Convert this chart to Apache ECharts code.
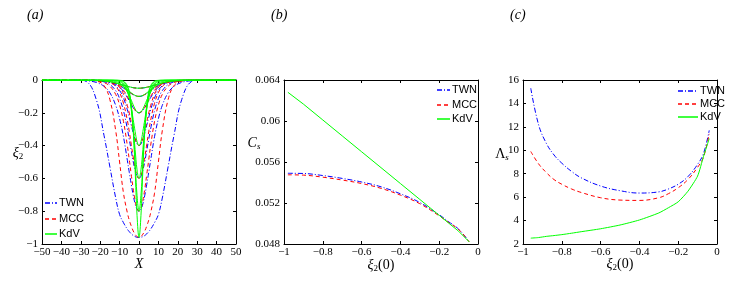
<!DOCTYPE html>
<html><head><meta charset="utf-8">
<script src="https://cdn.jsdelivr.net/npm/echarts@6.0.0/dist/echarts.min.js"></script>
<style>html,body{margin:0;padding:0;background:#fff}#c{width:733px;height:291px}</style>
</head><body><div id="c"></div>
<script>
// ---------- Panel (a): half profiles xi2(X) read at X >= 0 (curves are symmetric) ----------
const xHalf = [0, 1, 2, 3, 4, 5, 6, 8, 10, 12, 15, 18, 22, 27, 32, 50];
// TWN
const twn005 = [-0.05,-0.0496,-0.0486,-0.0468,-0.0446,-0.0419,-0.0388,-0.0324,-0.0262,-0.0201,-0.0134,-0.0085,-0.0044,-0.002,-0.0008,0];
const twn010 = [-0.1,-0.0988,-0.0951,-0.0895,-0.0823,-0.074,-0.0655,-0.0493,-0.0346,-0.0237,-0.0129,-0.0068,-0.0028,-0.0009,-0.0003,0];
const twn020 = [-0.2,-0.196,-0.185,-0.169,-0.149,-0.128,-0.107,-0.0706,-0.0436,-0.0264,-0.0122,-0.0053,-0.0018,-0.0004,-0.0001,0];
const twn040 = [-0.4,-0.39,-0.362,-0.322,-0.275,-0.229,-0.182,-0.11,-0.0635,-0.035,-0.014,-0.0056,-0.0016,-0.0003,0,0];
const twn060 = [-0.6,-0.587,-0.55,-0.496,-0.43,-0.363,-0.298,-0.187,-0.113,-0.065,-0.0276,-0.0114,-0.0036,-0.0008,-0.0001,0];
const twn080 = [-0.8,-0.788,-0.754,-0.702,-0.636,-0.564,-0.49,-0.346,-0.236,-0.155,-0.078,-0.039,-0.015,-0.0044,-0.0013,0];
const twn096 = [-0.96,-0.959,-0.955,-0.948,-0.938,-0.925,-0.91,-0.87,-0.82,-0.72,-0.53,-0.34,-0.12,-0.01,0,0];
// MCC
const mcc005 = [-0.05,-0.0496,-0.0485,-0.0467,-0.0444,-0.0415,-0.0383,-0.0318,-0.0255,-0.0194,-0.0127,-0.0078,-0.004,-0.0017,-0.0007,0];
const mcc010 = [-0.1,-0.0987,-0.0947,-0.0888,-0.0813,-0.0728,-0.0638,-0.047,-0.0324,-0.0217,-0.0115,-0.0061,-0.0024,-0.0008,-0.0002,0];
const mcc020 = [-0.2,-0.196,-0.184,-0.166,-0.144,-0.122,-0.1,-0.063,-0.038,-0.022,-0.0096,-0.004,-0.0012,-0.0003,0,0];
const mcc040 = [-0.4,-0.388,-0.355,-0.307,-0.255,-0.202,-0.156,-0.0865,-0.046,-0.023,-0.0084,-0.003,-0.0007,-0.0001,0,0];
const mcc060 = [-0.6,-0.583,-0.537,-0.469,-0.392,-0.316,-0.246,-0.142,-0.077,-0.04,-0.015,-0.0055,-0.0014,-0.0003,0,0];
const mcc080 = [-0.8,-0.783,-0.734,-0.663,-0.576,-0.488,-0.4,-0.253,-0.152,-0.088,-0.038,-0.016,-0.0049,-0.001,-0.0002,0];
const mcc096 = [-0.96,-0.955,-0.94,-0.92,-0.89,-0.855,-0.81,-0.69,-0.5,-0.31,-0.12,-0.035,-0.006,-0.001,0,0];
// KdV
const kdv005 = [-0.05,-0.0496,-0.048,-0.0465,-0.044,-0.041,-0.038,-0.031,-0.024,-0.018,-0.011,-0.007,-0.0035,-0.0015,-0.0006,0];
const kdv010 = [-0.1,-0.0984,-0.0939,-0.0869,-0.0782,-0.0686,-0.0589,-0.041,-0.0274,-0.0175,-0.0086,-0.0041,-0.0015,-0.0004,-0.0001,0];
const kdv020 = [-0.2,-0.194,-0.177,-0.151,-0.123,-0.097,-0.073,-0.039,-0.0196,-0.0098,-0.0034,-0.0012,-0.0003,0,0,0];
const kdv040 = [-0.4,-0.376,-0.314,-0.24,-0.168,-0.112,-0.072,-0.028,-0.0106,-0.004,-0.0009,-0.0002,0,0,0,0];
const kdv060 = [-0.6,-0.548,-0.424,-0.292,-0.18,-0.106,-0.059,-0.019,-0.0056,-0.0016,-0.0002,0,0,0,0,0];
const kdv080 = [-0.8,-0.706,-0.5,-0.3,-0.16,-0.083,-0.043,-0.0104,-0.0025,-0.0006,0,0,0,0,0,0];
const kdv096 = [-0.96,-0.827,-0.546,-0.304,-0.151,-0.073,-0.0345,-0.0072,-0.0015,-0.0003,0,0,0,0,0,0];

// ---------- Panel (b): phase speed Cs vs xi2(0) ----------
const bX   = [-0.98, -0.9, -0.8, -0.7, -0.6, -0.5, -0.4, -0.3, -0.2, -0.15, -0.1, -0.045];
const bTWN = [0.0549, 0.05488, 0.05468, 0.0544, 0.05405, 0.05358, 0.0529, 0.05205, 0.05085, 0.05015, 0.04945, 0.0482];
const bMCC = [0.05475, 0.05472, 0.05452, 0.05424, 0.0539, 0.05343, 0.05277, 0.05193, 0.05075, 0.05008, 0.04942, 0.0482];
const bKdV = [0.0628, 0.06165, 0.0601, 0.05855, 0.057, 0.05545, 0.0539, 0.05235, 0.0508, 0.05002, 0.04925, 0.0482];

// ---------- Panel (c): width Lambda_s vs xi2(0) ----------
const cX   = [-0.96, -0.92, -0.88, -0.84, -0.8, -0.75, -0.7, -0.6, -0.5, -0.4, -0.3, -0.25, -0.2, -0.15, -0.1, -0.07, -0.04];
const cTWN = [15.3, 12.2, 10.6, 9.6, 8.9, 8.2, 7.65, 6.95, 6.55, 6.35, 6.45, 6.7, 7.1, 7.75, 8.8, 9.7, 11.7];
const cMCC = [9.9, 8.85, 8.1, 7.5, 7.1, 6.7, 6.4, 5.95, 5.75, 5.72, 5.95, 6.3, 6.8, 7.5, 8.55, 9.4, 11.4];
const cKdV = [2.5, 2.55, 2.65, 2.72, 2.8, 2.92, 3.05, 3.3, 3.62, 4.05, 4.65, 5.1, 5.6, 6.5, 7.8, 9.45, 11.0];

const legendNames = ['TWN', 'MCC', 'KdV'];
const xTicksA = {min: -50, max: 50, interval: 10};
const yTicksA = {min: -1, max: 0, interval: 0.2};
const xTicksBC = {min: -1, max: 0, interval: 0.2};
const yTicksB = {min: 0.048, max: 0.064, interval: 0.004};
const yTicksC = {min: 2, max: 16, interval: 2};

// ---------- styles ----------
const BLUE = '#0000ff', RED = '#ff0000', GREEN = '#00ff00';
const STY = {
  TWN: {color: BLUE, type: [5, 2, 1, 2]},
  MCC: {color: RED, type: [4, 3]},
  KdV: {color: GREEN, type: 'solid'}
};
const SERIF = 'Liberation Serif';
const fmt = v => {
  const s = String(Number(v.toFixed(4)));
  return s.replace('-', '\u2212');
};

const grids = [
  {left: 42, top: 80, width: 194, height: 164},
  {left: 284, top: 80, width: 194, height: 164},
  {left: 523, top: 80, width: 194, height: 164}
];

const xAxis = [], yAxis = [];
function addAxes(gi, xr, yr) {
  const lab = {fontFamily: SERIF, fontSize: 11, color: '#000'};
  const line = {show: true, onZero: false, lineStyle: {color: '#000', width: 1}};
  const tick = {show: true, inside: true, length: 3, lineStyle: {color: '#000', width: 1}};
  xAxis.push({type: 'value', gridIndex: gi, position: 'bottom', min: xr.min, max: xr.max, interval: xr.interval,
    axisLine: line, axisTick: tick, splitLine: {show: false},
    axisLabel: Object.assign({margin: 3, formatter: fmt}, lab)});
  xAxis.push({type: 'value', gridIndex: gi, position: 'top', min: xr.min, max: xr.max, interval: xr.interval,
    axisLine: line, axisTick: tick, splitLine: {show: false}, axisLabel: {show: false}});
  yAxis.push({type: 'value', gridIndex: gi, position: 'left', min: yr.min, max: yr.max, interval: yr.interval,
    axisLine: line, axisTick: tick, splitLine: {show: false},
    axisLabel: Object.assign({margin: 4, formatter: fmt}, lab)});
  yAxis.push({type: 'value', gridIndex: gi, position: 'right', min: yr.min, max: yr.max, interval: yr.interval,
    axisLine: line, axisTick: tick, splitLine: {show: false}, axisLabel: {show: false}});
}
addAxes(0, xTicksA, yTicksA);
addAxes(1, xTicksBC, yTicksB);
addAxes(2, xTicksBC, yTicksC);

function mirror(half) {
  const d = [];
  for (let i = xHalf.length - 1; i >= 1; i--) d.push([-xHalf[i], half[i]]);
  for (let i = 0; i < xHalf.length; i++) d.push([xHalf[i], half[i]]);
  return d;
}
function lineSeries(name, gi, data, smooth) {
  return {type: 'line', name: name, xAxisIndex: 2 * gi, yAxisIndex: 2 * gi, data: data,
    symbol: 'none', showSymbol: false, smooth: smooth, clip: true,
    lineStyle: {color: STY[name].color, type: STY[name].type, width: 1},
    itemStyle: {color: STY[name].color}, emphasis: {disabled: true}, z: name === 'KdV' ? 3 : 2};
}
const series = [];
[twn005, twn010, twn020, twn040, twn060, twn080, twn096].forEach(h => series.push(lineSeries('TWN', 0, mirror(h), 0.4)));
[mcc005, mcc010, mcc020, mcc040, mcc060, mcc080, mcc096].forEach(h => series.push(lineSeries('MCC', 0, mirror(h), 0.4)));
[kdv005, kdv010, kdv020, kdv040, kdv060, kdv080, kdv096].forEach(h => series.push(lineSeries('KdV', 0, mirror(h), 0.4)));
const pair = (xs, ys) => xs.map((x, i) => [x, ys[i]]);
series.push(lineSeries('TWN', 1, pair(bX, bTWN), 0.4));
series.push(lineSeries('MCC', 1, pair(bX, bMCC), 0.4));
series.push(lineSeries('KdV', 1, pair(bX, bKdV), false));
series.push(lineSeries('TWN', 2, pair(cX, cTWN), 0.4));
series.push(lineSeries('MCC', 2, pair(cX, cMCC), 0.4));
series.push(lineSeries('KdV', 2, pair(cX, cKdV), 0.2));

// ---------- legends (drawn as key graphics: a sample line + real text) ----------
function legendGroup(x0, x1, ys) {
  const els = [];
  legendNames.forEach((n, i) => {
    const dash = STY[n].type === 'solid' ? null : STY[n].type;
    els.push({type: 'line', z: 10, shape: {x1: x0, y1: ys[i], x2: x1, y2: ys[i]},
      style: {stroke: STY[n].color, lineWidth: 1.5, lineDash: dash}, silent: true});
    els.push({type: 'text', z: 10, x: x1 + 2, y: ys[i], silent: true,
      style: {text: n, fontFamily: 'Liberation Sans', fontSize: 11, fill: '#000', align: 'left', verticalAlign: 'middle'}});
  });
  return els;
}

const ital = {fontStyle: 'italic', fontFamily: SERIF, fontSize: 14, fill: '#000'};
const rich = {
  i: {fontStyle: 'italic', fontFamily: SERIF, fontSize: 14, color: '#000'},
  n: {fontFamily: SERIF, fontSize: 14, color: '#000'},
  s: {fontFamily: SERIF, fontSize: 9, color: '#000', padding: [7, 0, 0, 0]},
  si: {fontStyle: 'italic', fontFamily: SERIF, fontSize: 9, color: '#000', padding: [7, 0, 0, 0]}
};
function label(x, y, text, align) {
  return {type: 'text', x: x, y: y, style: {text: text, rich: rich, align: align || 'center', verticalAlign: 'middle', fill: '#000'}};
}

const chart = echarts.init(document.getElementById('c'), null, {renderer: 'canvas'});
chart.setOption({
  animation: false,
  backgroundColor: '#fff',
  grid: grids.map(g => Object.assign({show: false, containLabel: false}, g)),
  xAxis: xAxis, yAxis: yAxis, series: series,
  graphic: [
    {type: 'text', x: 27, y: 8, style: Object.assign({text: '(a)'}, ital)},
    {type: 'text', x: 271, y: 8, style: Object.assign({text: '(b)'}, ital)},
    {type: 'text', x: 510, y: 8, style: Object.assign({text: '(c)'}, ital)},
    label(18, 153, '{i|ξ}{s|2}'),
    label(139, 264, '{i|X}'),
    label(254, 143, '{i|C}{si|s}'),
    label(381, 265, '{i|ξ}{s|2}{n|(0)}'),
    label(502, 154, '{n|Λ}{si|s}'),
    label(620, 264, '{i|ξ}{s|2}{n|(0)}')
  ].concat(legendGroup(45, 57, [203, 219, 234]))
   .concat(legendGroup(437, 450, [90, 105, 119]))
   .concat(legendGroup(678, 698, [91, 104, 117]))
});
</script></body></html>
